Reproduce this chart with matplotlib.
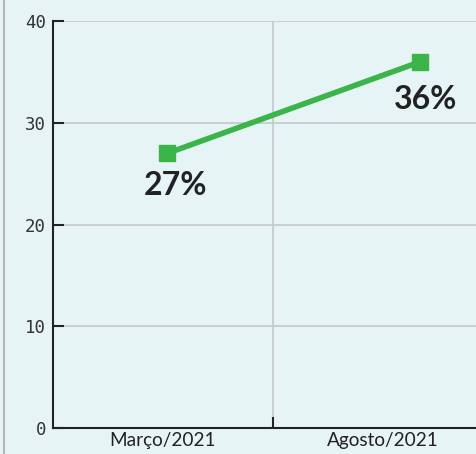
import matplotlib
matplotlib.use("Agg")
import matplotlib.pyplot as plt

categories = ["Março/2021", "Agosto/2021"]
values = [27, 36]
labels = ["27%", "36%"]
y_ticks = [0, 10, 20, 30, 40]

BG = "#E7F4F5"
GREEN = "#3BB54A"

fig = plt.figure(figsize=(4.77, 4.54), dpi=100, facecolor=BG)
ax = fig.add_axes([53/477, 1-428/454, 440/477, 407/454])
ax.set_facecolor(BG)

# category band positions
cat_pos = [i + 0.5 for i in range(len(categories))]
# points are drawn slightly off the band centres, as in the reference
pt_offset = [0.02, 0.17]
pt_x = [c + o for c, o in zip(cat_pos, pt_offset)]

ax.set_xlim(0, len(categories))
ax.set_ylim(0, 40)

ax.plot(pt_x, values, color=GREEN, lw=4, marker="s", ms=11, zorder=3, clip_on=False)
ax.annotate(labels[0], (pt_x[0], values[0]), xytext=(6, -23.5), textcoords="offset points",
            ha="center", va="center", fontsize=23, fontweight="bold", family="Lato", color="#222222")
ax.annotate(labels[1], (pt_x[1], values[1]), xytext=(3.5, -27), textcoords="offset points",
            ha="center", va="center", fontsize=23, fontweight="bold", family="Lato", color="#222222")

# y axis
ax.set_yticks(y_ticks)
ax.set_yticklabels([str(t) for t in y_ticks], family="DejaVu Sans Mono", fontsize=12.5, color="#333333")
ax.tick_params(axis="y", direction="in", length=8, width=1.5, color="#222222", pad=5)
ax.grid(axis="y", color="#C4C8CA", lw=1.2)

# x axis: band boundaries as gridlines, labels at centres
ax.set_xticks([1])
ax.set_xticklabels([])
ax.set_xticks(cat_pos, minor=True)
ax.set_xticklabels(categories, minor=True, family="Lato", fontsize=13.7, color="#222222")
ax.tick_params(axis="x", which="major", direction="in", length=8, width=1.5, color="#222222")
ax.tick_params(axis="x", which="minor", length=0, pad=3)
ax.grid(axis="x", which="major", color="#C4C8CA", lw=1.2)
ax.set_axisbelow(True)

for s in ["top", "right"]:
    ax.spines[s].set_visible(False)
for s in ["left", "bottom"]:
    ax.spines[s].set_color("#222222")
    ax.spines[s].set_linewidth(1.5)

# left border line
fig.add_artist(plt.Line2D([4/477, 4/477], [0, 1], color="#AAAAAA", lw=1.2, transform=fig.transFigure))

fig.savefig("out.png", dpi=100, facecolor=BG)
